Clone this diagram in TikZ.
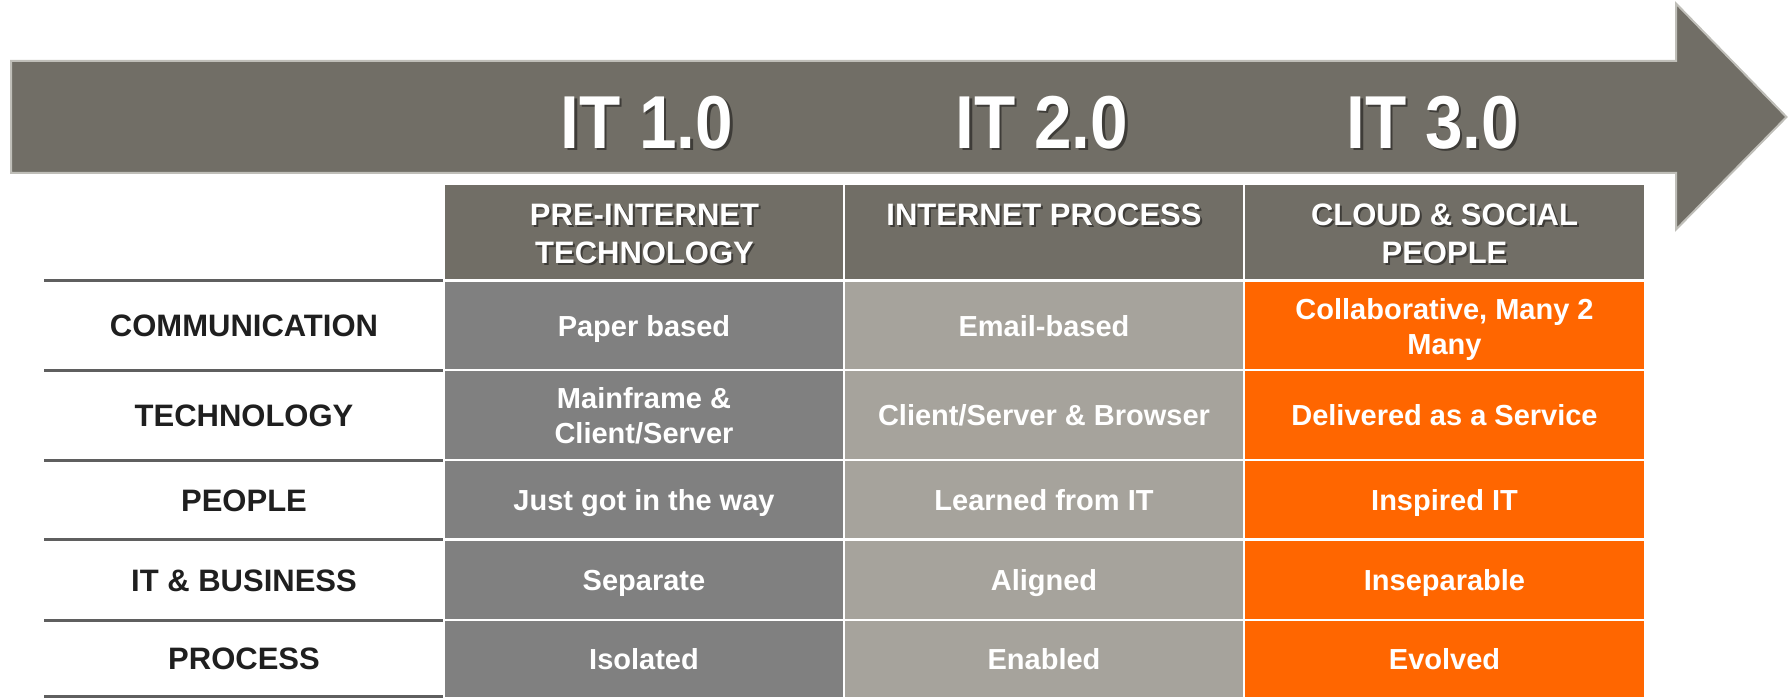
\documentclass[tikz,border=0pt]{standalone}
\usepackage{fontspec}
\setmainfont{Liberation Sans}
\usepackage{graphicx}
\definecolor{arrowgray}{HTML}{716E66}
\definecolor{arrowedge}{HTML}{BFBEB8}
\definecolor{hdrgray}{HTML}{716E66}
\definecolor{colone}{HTML}{808080}
\definecolor{coltwo}{HTML}{A6A39C}
\definecolor{colthree}{HTML}{FF6600}
\definecolor{rulegray}{HTML}{5F5F5F}
\definecolor{labelblack}{HTML}{1F1F1F}
\newcommand{\twoline}[2]{\begin{tabular}[t]{@{}c@{}}#1\\#2\end{tabular}}
\begin{document}
\begin{tikzpicture}[x=1pt,y=-1pt,
  cellbox/.style={draw=white, line width=2.5pt},
  rowrule/.style={draw=rulegray, line width=3pt},
  ittext/.style={anchor=base, inner sep=0pt, outer sep=0pt, text=white,
    font=\fontsize{75}{90}\selectfont\bfseries},
  hdrtext/.style={anchor=base, inner sep=0pt, outer sep=0pt, text=white,
    font=\fontsize{31}{38}\selectfont\bfseries},
  bodytext/.style={anchor=base, inner sep=0pt, outer sep=0pt, text=white,
    font=\fontsize{29}{35}\selectfont\bfseries},
  labeltext/.style={anchor=base, inner sep=0pt, outer sep=0pt, text=labelblack,
    font=\fontsize{31}{38}\selectfont\bfseries},
  shadowed/.style={text=black, text opacity=0.45}
]
\useasboundingbox (0,0) rectangle (1789,698);
% arrow
\path[fill=arrowgray, draw=arrowedge, line width=2pt, line join=miter]
  (11,61) -- (1676,61) -- (1676,3.5) -- (1786.5,117) -- (1676,229.5) -- (1676,173) -- (11,173) -- cycle;
% IT labels
\node[ittext, shadowed] (it1s) at (649.5,151) {\scalebox{0.9}[1]{IT 1.0}};
\node[ittext] (it1) at (647,148.5) {\scalebox{0.9}[1]{IT 1.0}};
\node[ittext, shadowed] (it2s) at (1044.5,151) {\scalebox{0.9}[1]{IT 2.0}};
\node[ittext] (it2) at (1042,148.5) {\scalebox{0.9}[1]{IT 2.0}};
\node[ittext, shadowed] (it3s) at (1435.5,151) {\scalebox{0.9}[1]{IT 3.0}};
\node[ittext] (it3) at (1433,148.5) {\scalebox{0.9}[1]{IT 3.0}};
% header cells
\path[cellbox, fill=hdrgray] (444,183.5) rectangle (844,280.5);
\path[cellbox, fill=hdrgray] (844,183.5) rectangle (1244,280.5);
\path[cellbox, fill=hdrgray] (1244,183.5) rectangle (1645,280.5);
% body cells
\foreach \ya/\yb in {280.5/370, 370/460, 460/539.5, 539.5/620, 620/698}{
  \path[cellbox, fill=colone] (444,\ya) rectangle (844,\yb);
  \path[cellbox, fill=coltwo] (844,\ya) rectangle (1244,\yb);
  \path[cellbox, fill=colthree] (1244,\ya) rectangle (1645,\yb);
}
% left rules
\foreach \yy in {280.5, 370, 460, 539.5, 620, 696.5}{
  \path[rowrule] (44,\yy) -- (443,\yy);
}
% header texts
\node[hdrtext, shadowed] (h1s) at (646.5,227) {\twoline{PRE-INTERNET}{TECHNOLOGY}};
\node[hdrtext] (h1) at (644.5,225) {\twoline{PRE-INTERNET}{TECHNOLOGY}};
\node[hdrtext, shadowed] (h2s) at (1046,227) {INTERNET PROCESS};
\node[hdrtext] (h2) at (1044,225) {INTERNET PROCESS};
\node[hdrtext, shadowed] (h3s) at (1446.5,227) {\twoline{CLOUD \& SOCIAL}{PEOPLE}};
\node[hdrtext] (h3) at (1444.5,225) {\twoline{CLOUD \& SOCIAL}{PEOPLE}};
% row labels
\node[labeltext] (l1) at (244,336.5) {COMMUNICATION};
\node[labeltext] (l2) at (244,426.5) {TECHNOLOGY};
\node[labeltext] (l3) at (244,511) {PEOPLE};
\node[labeltext] (l4) at (244,591) {IT \& BUSINESS};
\node[labeltext] (l5) at (244,669.5) {PROCESS};
% column 1
\node[bodytext] (a1) at (644,336) {Paper based};
\node[bodytext] (a2) at (644,408) {\twoline{Mainframe \&}{Client/Server}};
\node[bodytext] (a3) at (644,510.5) {Just got in the way};
\node[bodytext] (a4) at (644,590.5) {Separate};
\node[bodytext] (a5) at (644,669) {Isolated};
% column 2
\node[bodytext] (b1) at (1044,336) {Email-based};
\node[bodytext] (b2) at (1044,425.5) {Client/Server \& Browser};
\node[bodytext] (b3) at (1044,510.5) {Learned from IT};
\node[bodytext] (b4) at (1044,590.5) {Aligned};
\node[bodytext] (b5) at (1044,669) {Enabled};
% column 3
\node[bodytext] (c1) at (1444.5,319) {\twoline{Collaborative, Many 2}{Many}};
\node[bodytext] (c2) at (1444.5,425.5) {Delivered as a Service};
\node[bodytext] (c3) at (1444.5,510.5) {Inspired IT};
\node[bodytext] (c4) at (1444.5,590.5) {Inseparable};
\node[bodytext] (c5) at (1444.5,669) {Evolved};
\end{tikzpicture}
\end{document}
